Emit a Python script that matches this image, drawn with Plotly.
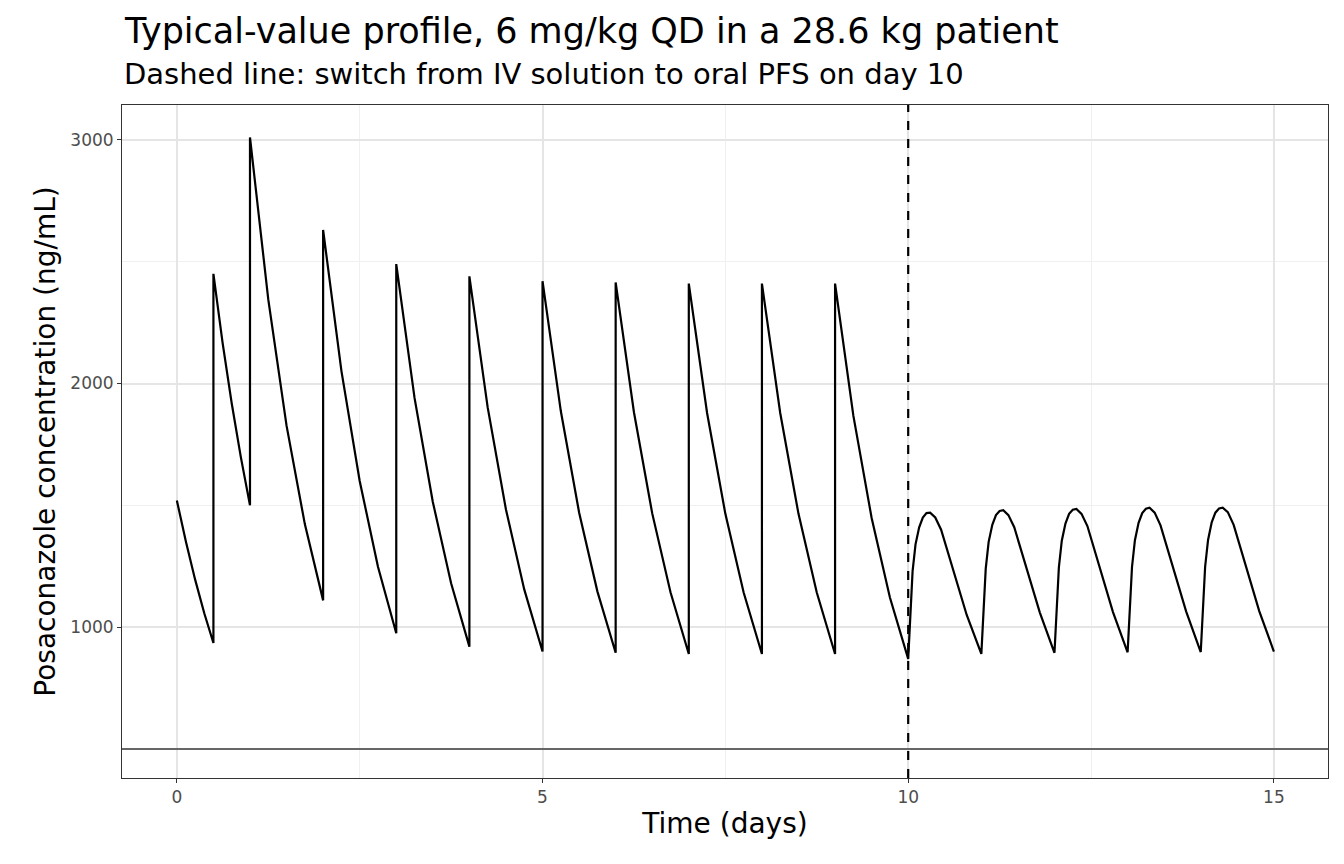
import plotly.graph_objects as go

# IV phase: each dose segment sampled at fractions of the interval
iv_starts = [0, 0.5, 1, 2, 3, 4, 5, 6, 7, 8, 9]
iv_lengths = [0.5, 0.5, 1, 1, 1, 1, 1, 1, 1, 1, 1]
iv_conc = [
    [1520, 1350, 1195, 1057, 935],
    [2450, 2168, 1919, 1698, 1500],
    [3010, 2345, 1827, 1423, 1110],
    [2630, 2052, 1600, 1248, 975],
    [2490, 1941, 1514, 1180, 920],
    [2440, 1902, 1483, 1155, 900],
    [2420, 1887, 1471, 1147, 895],
    [2415, 1882, 1467, 1143, 890],
    [2410, 1879, 1465, 1142, 890],
    [2410, 1879, 1465, 1142, 890],
    [2410, 1868, 1448, 1122, 870],
]
iv_frac = [0, 0.25, 0.5, 0.75, 1]

# oral PFS phase
oral_starts = [10, 11, 12, 13, 14]
oral_frac = [0, 0.03, 0.06, 0.1, 0.15, 0.2, 0.25, 0.3, 0.37, 0.45, 0.6, 0.8, 1]
oral_conc = [
    [870, 1080, 1230, 1340, 1410, 1450, 1468, 1470, 1450, 1400, 1250, 1050, 890],
    [890, 1090, 1240, 1350, 1420, 1460, 1477, 1480, 1460, 1410, 1260, 1060, 895],
    [895, 1095, 1245, 1355, 1425, 1465, 1482, 1485, 1465, 1415, 1262, 1062, 897],
    [897, 1097, 1247, 1357, 1428, 1468, 1486, 1490, 1470, 1418, 1265, 1065, 898],
    [898, 1098, 1248, 1358, 1430, 1470, 1487, 1490, 1472, 1420, 1266, 1066, 900],
]

target = 500
switch_day = 10

t, c = [], []
for s, L, vals in zip(iv_starts, iv_lengths, iv_conc):
    for f, v in zip(iv_frac, vals):
        t.append(s + f * L)
        c.append(v)
for s, vals in zip(oral_starts, oral_conc):
    for f, v in zip(oral_frac, vals):
        t.append(s + f)
        c.append(v)

fig = go.Figure()
fig.add_trace(go.Scatter(x=t, y=c, mode='lines', line=dict(color='black', width=2.2),
                         showlegend=False))
fig.add_hline(y=target, line=dict(color='#666666', width=2))
fig.add_vline(x=switch_day, line=dict(color='black', width=2.2, dash='dash'))

axis_common = dict(showline=True, mirror=True, linecolor='#333333', linewidth=1,
                   gridcolor='#e5e5e5', gridwidth=1.6, zeroline=False,
                   ticks='outside', ticklen=4, tickcolor='#333333',
                   tickfont=dict(size=17, color='#4d4d4d'))

fig.update_xaxes(range=[-0.75, 15.74], tickvals=[0, 5, 10, 15],
                 minor=dict(tickvals=[2.5, 7.5, 12.5], showgrid=True, gridcolor='#f0f0f0', gridwidth=1, ticks=''),
                 title=dict(text='Time (days)', font=dict(size=28, color='black'), standoff=6),
                 **axis_common)
fig.update_yaxes(range=[381, 3143], tickvals=[1000, 2000, 3000],
                 minor=dict(tickvals=[500, 1500, 2500], showgrid=True, gridcolor='#f0f0f0', gridwidth=1, ticks=''),
                 title=dict(text='Posaconazole concentration (ng/mL)', font=dict(size=28, color='black'), standoff=6),
                 **axis_common)

fig.add_annotation(text='Typical-value profile, 6 mg/kg QD in a 28.6 kg patient',
                   xref='paper', yref='paper', x=0, y=1.11, xanchor='left', yanchor='middle',
                   showarrow=False, font=dict(size=35, color='black'))
fig.add_annotation(text='Dashed line: switch from IV solution to oral PFS on day 10',
                   xref='paper', yref='paper', x=0, y=1.046, xanchor='left', yanchor='middle',
                   showarrow=False, font=dict(size=29, color='black'))

fig.update_layout(width=1344, height=864, paper_bgcolor='white', plot_bgcolor='white',
                  margin=dict(l=114, r=24, t=97, b=94),
                  font=dict(family='DejaVu Sans'))

fig.write_html("out.html")
